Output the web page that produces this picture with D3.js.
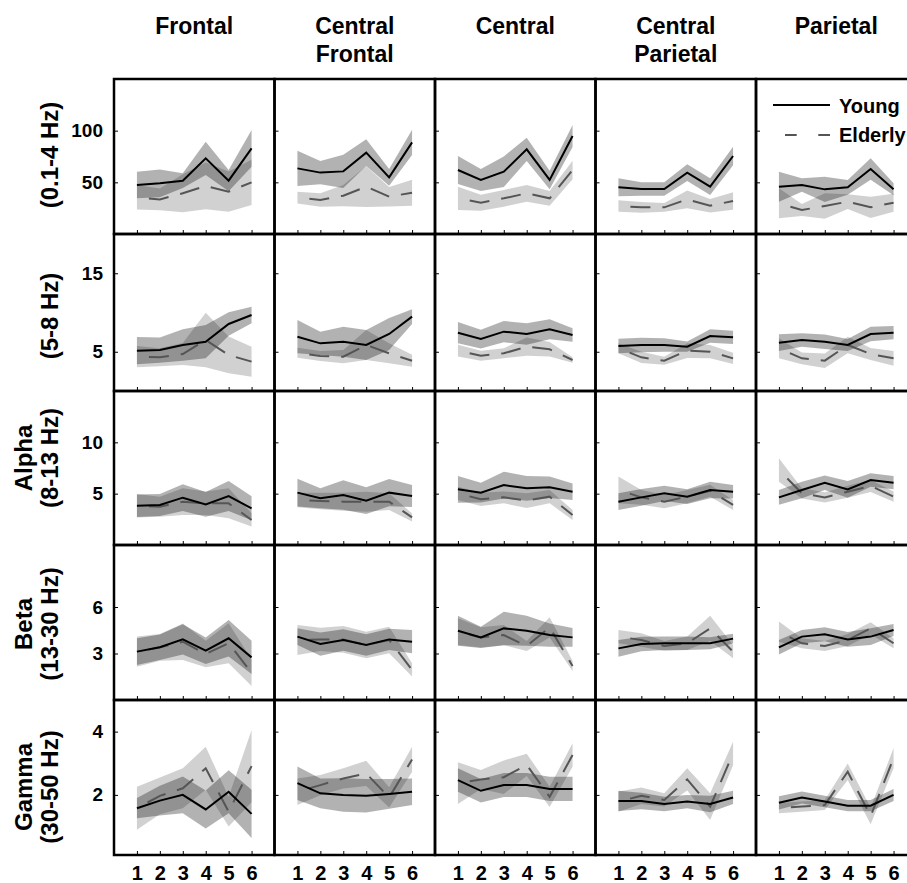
<!DOCTYPE html>
<html>
<head>
<meta charset="utf-8">
<script src="https://cdn.jsdelivr.net/npm/d3@7"></script>
<style>
  html, body { margin: 0; padding: 0; background: #fff; }
  svg text { font-family: "Liberation Sans", Arial, sans-serif; font-weight: bold; fill: #000; }
</style>
</head>
<body>
<div id="chart"></div>
<script>
// ---------------- DATA ----------------
const regions = ["Frontal", "Central Frontal", "Central", "Central Parietal", "Parietal"];
const bands = ["(0.1-4 Hz)", "(5-8 Hz)", "Alpha (8-13 Hz)", "Beta (13-30 Hz)", "Gamma (30-50 Hz)"];
const electrodes = [1, 2, 3, 4, 5, 6];
const seriesNames = ["Young", "Elderly"];
const yTickValues = [[50, 100], [5, 15], [5, 10], [3, 6], [2, 4]];
const yDomains = [[0, 150], [0, 20], [0, 15], [0, 10], [0.1, 5]];

// youngMean[band][region] = values at electrodes 1..6
const youngMean = [
  [[47.4, 49.0, 51.6, 73.2, 51.6, 82.9], [63.5, 59.4, 60.6, 78.7, 54.8, 88.7], [61.9, 52.3, 60.3, 81.9, 52.3, 94.8], [45.2, 43.5, 43.5, 59.4, 45.8, 75.5], [45.8, 47.4, 43.2, 45.2, 62.9, 43.2]],
  [[5.14, 5.22, 5.86, 6.28, 8.54, 9.68], [6.92, 6.07, 6.28, 5.86, 7.26, 9.47], [7.43, 6.62, 7.56, 7.26, 7.86, 7.13], [5.73, 5.86, 5.86, 5.65, 7.01, 6.84], [6.16, 6.50, 6.28, 5.86, 7.26, 7.43]],
  [[3.83, 3.90, 4.61, 3.96, 4.77, 3.57], [5.10, 4.55, 4.87, 4.32, 5.10, 4.77], [5.42, 5.10, 5.84, 5.52, 5.62, 5.19], [4.22, 4.64, 5.03, 4.71, 5.36, 5.19], [4.64, 5.36, 6.07, 5.42, 6.33, 6.07]],
  [[3.12, 3.40, 3.91, 3.18, 3.98, 2.75], [4.09, 3.61, 3.87, 3.55, 3.91, 3.76], [4.47, 4.04, 4.62, 4.47, 4.19, 4.04], [3.33, 3.61, 3.66, 3.66, 3.66, 3.96], [3.40, 4.09, 4.24, 3.91, 4.09, 4.52]],
  [[1.58, 1.82, 2.00, 1.54, 2.10, 1.40], [2.37, 2.05, 2.00, 1.97, 2.03, 2.10], [2.47, 2.13, 2.31, 2.31, 2.19, 2.19], [1.81, 1.81, 1.71, 1.79, 1.71, 1.92], [1.75, 1.92, 1.79, 1.66, 1.66, 2.00]]
];
const youngErr = [
  [[12.9, 13.5, 7.1, 16.1, 10.3, 17.7], [17.1, 11.3, 16.1, 12.9, 8.1, 12.3], [13.5, 10.6, 14.8, 11.3, 9.0, 10.6], [8.7, 6.5, 6.5, 8.1, 8.1, 9.0], [14.5, 6.5, 12.3, 7.1, 10.3, 5.8]],
  [[1.74, 1.61, 2.00, 2.12, 1.49, 1.06], [2.12, 1.49, 1.91, 1.91, 2.04, 0.93], [1.36, 1.19, 1.36, 1.36, 1.27, 0.85], [0.93, 0.93, 0.85, 0.64, 0.85, 0.85], [1.06, 0.85, 0.93, 0.76, 0.93, 0.85]],
  [[1.10, 1.07, 1.30, 1.20, 1.46, 1.17], [1.36, 0.97, 1.43, 1.30, 1.33, 1.07], [1.30, 0.97, 1.30, 1.20, 1.04, 0.81], [0.81, 0.81, 0.75, 0.71, 0.81, 0.65], [0.71, 0.81, 0.71, 0.81, 0.65, 0.65]],
  [[0.86, 0.82, 0.97, 0.86, 1.18, 1.08], [0.54, 0.75, 0.69, 0.69, 0.69, 0.75], [0.97, 0.69, 1.08, 0.97, 0.75, 0.60], [0.54, 0.47, 0.43, 0.43, 0.39, 0.32], [0.47, 0.43, 0.45, 0.47, 0.54, 0.39]],
  [[0.32, 0.47, 0.58, 0.60, 0.68, 0.76], [0.53, 0.47, 0.53, 0.53, 0.47, 0.42], [0.37, 0.37, 0.38, 0.38, 0.38, 0.38], [0.32, 0.26, 0.23, 0.21, 0.26, 0.21], [0.21, 0.19, 0.18, 0.18, 0.18, 0.19]]
];
const elderlyMean = [
  [[35.5, 33.5, 39.4, 46.5, 41.0, 50.0], [35.2, 32.9, 37.1, 45.8, 36.1, 40.0], [34.5, 30.3, 34.5, 39.4, 34.5, 61.9], [27.1, 25.8, 25.8, 33.5, 27.4, 31.9], [29.7, 23.2, 27.1, 31.3, 25.8, 30.3]],
  [[4.37, 4.29, 4.71, 6.50, 4.59, 3.74], [4.88, 4.46, 4.37, 5.86, 4.80, 3.86], [5.14, 4.50, 4.80, 5.65, 5.31, 3.95], [5.44, 4.29, 3.86, 5.14, 5.01, 4.16], [5.44, 4.16, 3.86, 5.86, 4.71, 4.16]],
  [[3.83, 3.73, 4.22, 4.06, 4.06, 2.44], [4.38, 4.29, 4.22, 4.22, 4.22, 2.69], [5.03, 4.45, 4.64, 4.32, 4.71, 2.92], [5.36, 4.64, 4.22, 4.71, 5.29, 3.90], [7.31, 5.03, 4.64, 5.19, 5.75, 4.71]],
  [[3.12, 3.40, 3.76, 2.97, 3.66, 1.76], [3.87, 3.91, 3.91, 3.55, 3.87, 1.94], [4.41, 4.04, 4.19, 3.48, 4.69, 2.19], [4.09, 3.87, 3.48, 3.66, 4.62, 3.12], [4.41, 3.66, 3.48, 3.87, 4.62, 3.66]],
  [[1.58, 1.97, 2.21, 2.84, 1.47, 2.91], [2.10, 2.31, 2.52, 2.68, 1.92, 3.12], [2.37, 2.49, 2.56, 2.95, 1.94, 3.26], [1.79, 1.97, 1.84, 2.49, 1.63, 3.31], [1.58, 1.63, 1.68, 2.73, 1.33, 3.16]]
];
const elderlyErr = [
  [[11.9, 10.6, 18.4, 22.6, 19.4, 21.9], [5.8, 6.5, 10.3, 19.7, 9.4, 12.6], [11.3, 7.7, 8.1, 8.1, 7.1, 9.0], [5.5, 5.2, 4.2, 8.7, 6.5, 8.4], [14.5, 5.8, 12.3, 7.1, 10.3, 8.7]],
  [[1.36, 1.15, 1.40, 3.48, 2.34, 1.91], [0.64, 0.64, 0.85, 1.91, 1.27, 0.76], [0.76, 0.64, 0.64, 1.15, 0.93, 0.34], [0.64, 0.72, 0.51, 0.93, 0.85, 0.72], [1.27, 0.76, 0.93, 1.06, 0.76, 0.93]],
  [[1.14, 0.97, 1.30, 1.14, 1.46, 0.65], [0.71, 0.81, 0.88, 0.97, 0.81, 0.39], [0.65, 0.65, 0.58, 0.71, 0.65, 0.49], [1.30, 0.71, 0.65, 0.65, 0.58, 0.49], [1.14, 0.49, 0.49, 0.58, 0.58, 0.49]],
  [[0.97, 0.86, 1.18, 0.86, 1.29, 0.86], [0.97, 0.75, 0.86, 0.86, 0.86, 0.43], [0.86, 0.65, 0.65, 0.32, 0.65, 0.32], [0.43, 0.43, 0.32, 0.43, 0.82, 0.43], [0.65, 0.32, 0.32, 0.39, 0.39, 0.32]],
  [[0.68, 0.58, 0.63, 0.68, 0.47, 1.14], [0.42, 0.32, 0.32, 0.40, 0.32, 0.40], [0.66, 0.30, 0.53, 0.35, 0.32, 0.37], [0.32, 0.26, 0.21, 0.35, 0.42, 0.37], [0.16, 0.16, 0.16, 0.26, 0.26, 0.32]]
];

// ---------------- LAYOUT ----------------
const W = 907, H = 883;
const gridLeft = 114, colW = 160.5;
const rowEdges = [79, 234, 391, 545, 700, 855];
const titleLines = [["Frontal"], ["Central", "Frontal"], ["Central"], ["Central", "Parietal"], ["Parietal"]];
const rowLabelLines = [["(0.1-4 Hz)"], ["(5-8 Hz)"], ["Alpha", "(8-13 Hz)"], ["Beta", "(13-30 Hz)"], ["Gamma", "(30-50 Hz)"]];
const rowLabelCenters = [155, 316, 458, 624, 787];

const svg = d3.select("#chart").append("svg")
  .attr("width", W).attr("height", H)
  .attr("viewBox", `0 0 ${W} ${H}`);
svg.append("rect").attr("width", W).attr("height", H).attr("fill", "#fff");

// column titles
titleLines.forEach((lines, c) => {
  const cx = gridLeft + c * colW + colW / 2;
  lines.forEach((t, i) => {
    svg.append("text").attr("x", cx).attr("y", 34 + i * 28)
      .attr("text-anchor", "middle").attr("font-size", 23).text(t);
  });
});

// row labels
rowLabelLines.forEach((lines, r) => {
  const cy = rowLabelCenters[r];
  const baselines = lines.length === 1 ? [58] : [32, 58];
  lines.forEach((t, i) => {
    svg.append("text")
      .attr("transform", `translate(${baselines[i]},${cy}) rotate(-90)`)
      .attr("text-anchor", "middle").attr("font-size", 24).text(t);
  });
});

const defs = svg.append("defs");

for (let r = 0; r < 5; r++) {
  for (let c = 0; c < 5; c++) {
    const x0 = gridLeft + c * colW, x1 = x0 + colW;
    const y0 = rowEdges[r], y1 = rowEdges[r + 1];
    const xs = d3.scaleLinear().domain([0, 7]).range([x0, x1]);
    const ys = d3.scaleLinear().domain(yDomains[r]).range([y1, y0]);

    const clipId = `clip-${r}-${c}`;
    defs.append("clipPath").attr("id", clipId)
      .append("rect").attr("x", x0).attr("y", y0).attr("width", colW).attr("height", y1 - y0);
    const g = svg.append("g").attr("clip-path", `url(#${clipId})`);

    const yM = youngMean[r][c], yE = youngErr[r][c];
    const eM = elderlyMean[r][c], eE = elderlyErr[r][c];

    const area = (m, e) => d3.area()
      .x((d, i) => xs(electrodes[i]))
      .y0((d, i) => ys(m[i] - e[i]))
      .y1((d, i) => ys(m[i] + e[i]))(m);
    const line = d3.line().x((d, i) => xs(electrodes[i])).y(d => ys(d));

    g.append("path").attr("d", area(eM, eE)).attr("fill", "#000").attr("fill-opacity", 0.18);
    g.append("path").attr("d", area(yM, yE)).attr("fill", "#000").attr("fill-opacity", 0.3);
    g.append("path").attr("d", line(eM)).attr("fill", "none")
      .attr("stroke", "#555").attr("stroke-width", 2)
      .attr("stroke-dasharray", "20,12").attr("stroke-dashoffset", 20);
    g.append("path").attr("d", line(yM)).attr("fill", "none")
      .attr("stroke", "#000").attr("stroke-width", 2);

    // axes (inward ticks)
    const ya = d3.axisLeft(ys).tickValues(yTickValues[r]).tickSizeInner(-4).tickSizeOuter(0)
      .tickPadding(11).tickFormat(c === 0 ? d3.format("d") : () => "");
    const ga = svg.append("g").attr("transform", `translate(${x0},0)`).call(ya);
    ga.select(".domain").remove();
    ga.selectAll("text").attr("font-size", 19).attr("font-family", null);

    const xa = d3.axisBottom(xs).tickValues(electrodes).tickSizeInner(-4).tickSizeOuter(0)
      .tickPadding(11).tickFormat(r === 4 ? d3.format("d") : () => "");
    const gx = svg.append("g").attr("transform", `translate(0,${y1})`).call(xa);
    gx.select(".domain").remove();
    gx.selectAll("text").attr("font-size", 20).attr("font-family", null);

    svg.append("rect").attr("x", x0).attr("y", y0).attr("width", colW).attr("height", y1 - y0)
      .attr("fill", "none").attr("stroke", "#000").attr("stroke-width", 2.5);

    // legend in top-right panel
    if (r === 0 && c === 4) {
      const lg = svg.append("g");
      lg.append("line").attr("x1", x0 + 17).attr("x2", x0 + 74).attr("y1", 105).attr("y2", 105)
        .attr("stroke", "#000").attr("stroke-width", 2);
      lg.append("text").attr("x", x0 + 83).attr("y", 112.5).attr("font-size", 20).text(seriesNames[0]);
      lg.append("line").attr("x1", x0 + 29).attr("x2", x0 + 74).attr("y1", 135).attr("y2", 135)
        .attr("stroke", "#555").attr("stroke-width", 2).attr("stroke-dasharray", "11.7,21.6");
      lg.append("text").attr("x", x0 + 83).attr("y", 141.5).attr("font-size", 20).text(seriesNames[1]);
    }
  }
}
</script>
</body>
</html>
